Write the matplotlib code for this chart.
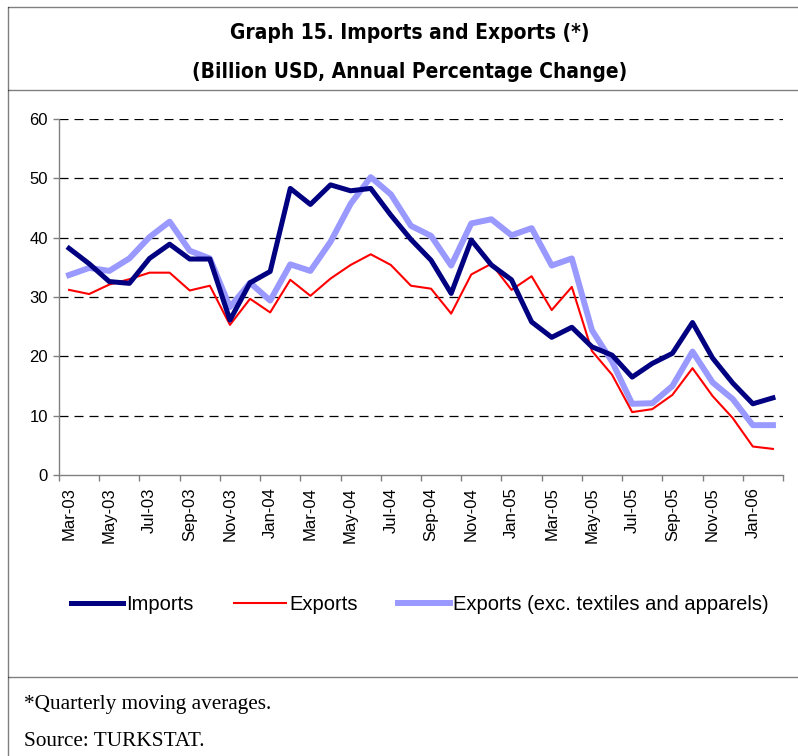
import matplotlib
matplotlib.use("Agg")
import matplotlib.pyplot as plt
from matplotlib.lines import Line2D
from matplotlib import font_manager as fm
import numpy as np
import os

months = ["Mar-03","Apr-03","May-03","Jun-03","Jul-03","Aug-03","Sep-03","Oct-03","Nov-03","Dec-03",
          "Jan-04","Feb-04","Mar-04","Apr-04","May-04","Jun-04","Jul-04","Aug-04","Sep-04","Oct-04",
          "Nov-04","Dec-04","Jan-05","Feb-05","Mar-05","Apr-05","May-05","Jun-05","Jul-05","Aug-05",
          "Sep-05","Oct-05","Nov-05","Dec-05","Jan-06","Feb-06"]

imports = [38.2, 35.6, 32.6, 32.3, 36.5, 38.9, 36.4, 36.4, 26.1, 32.4,
           34.3, 48.3, 45.6, 48.9, 47.9, 48.3, 43.8, 39.7, 36.2, 30.6,
           39.6, 35.4, 32.9, 25.8, 23.2, 24.9, 21.6, 20.2, 16.5, 18.8,
           20.5, 25.7, 19.7, 15.5, 12.0, 13.0]

exports = [31.2, 30.5, 32.1, 33.0, 34.1, 34.1, 31.1, 31.9, 25.3, 29.7,
           27.4, 32.9, 30.2, 33.1, 35.4, 37.2, 35.4, 31.9, 31.4, 27.2,
           33.8, 35.6, 31.2, 33.5, 27.8, 31.7, 20.9, 16.9, 10.6, 11.1,
           13.5, 18.0, 13.3, 9.6, 4.8, 4.4]

exports_ex = [33.7, 34.9, 34.4, 36.5, 40.1, 42.7, 37.8, 36.5, 28.3, 32.4,
              29.4, 35.5, 34.4, 39.3, 45.7, 50.2, 47.3, 42.0, 40.3, 35.3,
              42.4, 43.1, 40.4, 41.6, 35.3, 36.5, 24.4, 19.1, 12.0, 12.1,
              15.0, 20.8, 15.6, 12.8, 8.4, 8.4]

series_names = ["Imports", "Exports", "Exports (exc. textiles and apparels)"]

plt.rcParams['lines.scale_dashes'] = False
plt.rcParams['font.family'] = ['Liberation Sans', 'DejaVu Sans']

# find a narrow/condensed bold font for the title if available
TITLE_SIZE = 15
title_fp = None
prefs = ['liberationsansnarrow-bold.ttf', 'arialnb.ttf', 'dejavusanscondensed-bold.ttf',
         'robotocondensed-bold.ttf', 'opensanscondensed-bold.ttf', 'notosans-condensedbold.ttf']
files = {os.path.basename(f.fname).lower(): f.fname for f in fm.fontManager.ttflist}
for p in prefs:
    if p in files:
        title_fp = fm.FontProperties(fname=files[p], size=TITLE_SIZE)
        break
if title_fp is None:
    for name, path in files.items():
        if ('narrow' in name or 'condensed' in name) and 'bold' in name and 'oblique' not in name and 'italic' not in name:
            title_fp = fm.FontProperties(fname=path, size=TITLE_SIZE)
            break
if title_fp is None:
    title_fp = fm.FontProperties(family=['Liberation Sans', 'DejaVu Sans'], weight='bold', size=14)

W, H = 798, 756
fig = plt.figure(figsize=(W/100, H/100), dpi=100)
fig.patch.set_facecolor('white')

ax = fig.add_axes([59/W, 1-475/H, (783-59)/W, (475-119)/H])
x = np.arange(len(months))

ax.plot(x, exports_ex, color='#9999FF', lw=4.3, label=series_names[2], zorder=3)
ax.plot(x, exports, color='#FF0000', lw=1.5, label=series_names[1], zorder=4)
ax.plot(x, imports, color='#000080', lw=3.6, label=series_names[0], zorder=5)

ax.set_xlim(-0.5, 35.5)
ax.set_ylim(0, 60)
ax.set_yticks(np.arange(0, 61, 10))
ax.tick_params(axis='y', labelsize=12, length=4, width=1, color='#808080', pad=4)
for yv in range(10, 61, 10):
    ax.axhline(yv, color='black', lw=0.9, linestyle=(0, (6.5, 4.3)), zorder=1)

ax.set_xticks(np.arange(-0.5, 36, 2))
ax.set_xticklabels([])
ax.set_xticks(np.arange(0, 36, 2), minor=True)
ax.set_xticklabels(months[::2], minor=True, rotation=90, fontsize=12)
ax.tick_params(axis='x', which='major', length=4, width=1, color='#808080')
ax.tick_params(axis='x', which='minor', length=0, pad=9)

for s in ['top', 'right']:
    ax.spines[s].set_visible(False)
for s in ['left', 'bottom']:
    ax.spines[s].set_color('#808080')
    ax.spines[s].set_linewidth(1)

handles = [Line2D([], [], color='#000080', lw=3.6),
           Line2D([], [], color='#FF0000', lw=1.5),
           Line2D([], [], color='#9999FF', lw=4.3)]
fig.legend(handles, series_names, loc='center', bbox_to_anchor=(420/W, 1-605/H), ncol=3,
           frameon=False, fontsize=14.5, handlelength=2.6, handletextpad=0.15, columnspacing=2.0)

# Title
fig.text(410/W, 1-33/H, "Graph 15. Imports and Exports (*)", ha='center', va='center',
         fontproperties=title_fp)
fig.text(410/W, 1-72/H, "(Billion USD, Annual Percentage Change)", ha='center', va='center',
         fontproperties=title_fp)

# Footer
fig.text(24/W, 1-705/H, "*Quarterly moving averages.", ha='left', va='center',
         fontsize=15.3, family=['Liberation Serif', 'DejaVu Serif'])
fig.text(24/W, 1-742/H, "Source: TURKSTAT.", ha='left', va='center',
         fontsize=15.3, family=['Liberation Serif', 'DejaVu Serif'])

# Dotted frame lines
dot = dict(color='black', lw=1, linestyle=(0, (0.72, 0.72)), transform=fig.transFigure)
fig.add_artist(Line2D([8/W, 1], [1-7/H, 1-7/H], **dot))
fig.add_artist(Line2D([8/W, 1], [1-90/H, 1-90/H], **dot))
fig.add_artist(Line2D([8/W, 1], [1-677/H, 1-677/H], **dot))
fig.add_artist(Line2D([8/W, 8/W], [0, 1-7/H], **dot))

fig.savefig("out.png", dpi=100, facecolor='white')
